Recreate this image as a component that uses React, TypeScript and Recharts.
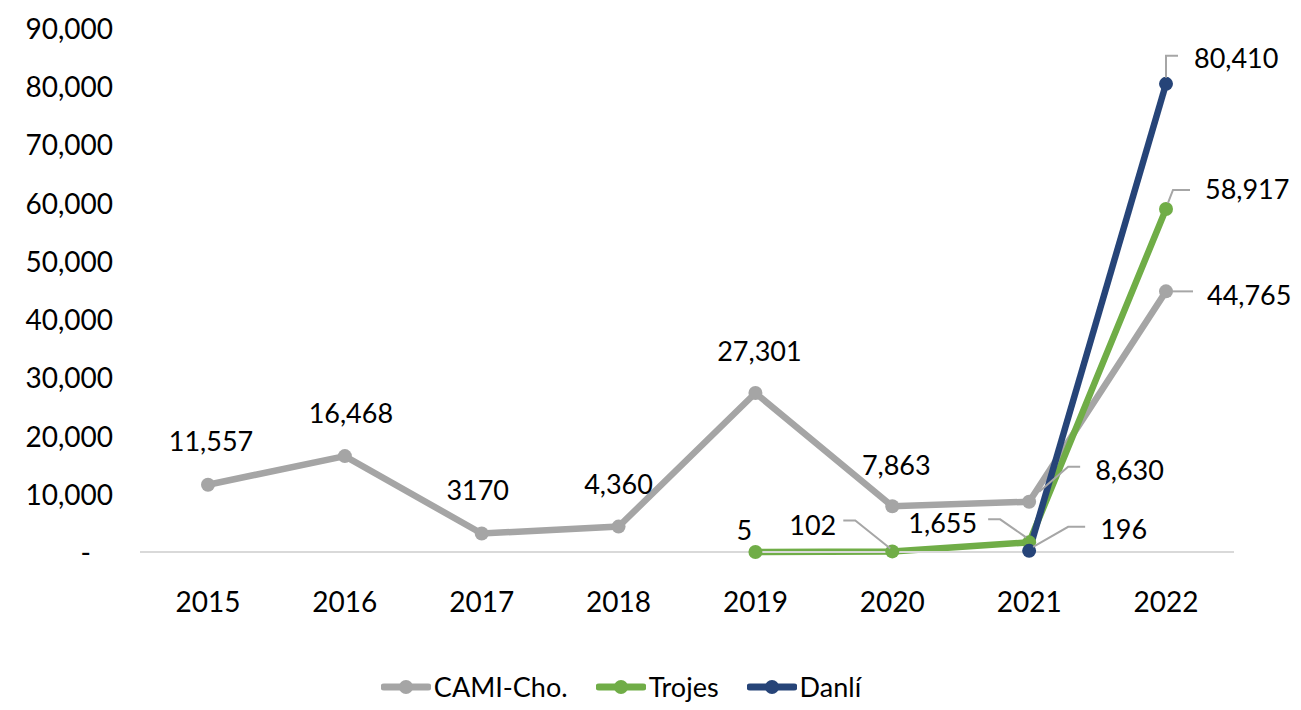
import React from 'react';
import { LineChart, Line, XAxis, YAxis, LabelList, Legend } from 'recharts';

const years = ['2015', '2016', '2017', '2018', '2019', '2020', '2021', '2022'];
const camiValues = [11557, 16468, 3170, 4360, 27301, 7863, 8630, 44765];
const trojesValues = [null, null, null, null, 5, 102, 1655, 58917];
const danliValues = [null, null, null, null, null, null, 196, 80410];
const camiLabels = ['11,557', '16,468', '3170', '4,360', '27,301', '7,863', '8,630', '44,765'];
const trojesLabels = ['', '', '', '', '5', '102', '1,655', '58,917'];
const danliLabels = ['', '', '', '', '', '', '196', '80,410'];
const yTicks = [0, 10000, 20000, 30000, 40000, 50000, 60000, 70000, 80000, 90000];
const seriesNames = ['CAMI-Cho.', 'Trojes', 'Danlí'];

const data = years.map((y, i) => ({
  year: y,
  cami: camiValues[i],
  trojes: trojesValues[i],
  danli: danliValues[i],
}));

const FONT = 'Lato, "Open Sans", sans-serif';
const TEXT = '#000000';
const COLORS = { cami: '#A5A5A5', trojes: '#70AD47', danli: '#264478' };
const LEADER = '#A6A6A6';

type LabelCfg = { dx: number; dy: number; anchor: 'start' | 'middle' | 'end'; leader?: number[][] };

const camiCfg: Record<number, LabelCfg> = {
  0: { dx: 3, dy: -44, anchor: 'middle' },
  1: { dx: 6, dy: -44, anchor: 'middle' },
  2: { dx: -4, dy: -44, anchor: 'middle' },
  3: { dx: 0, dy: -43, anchor: 'middle' },
  4: { dx: 4, dy: -43, anchor: 'middle' },
  5: { dx: 4, dy: -42, anchor: 'middle' },
  6: { dx: 66, dy: -32, anchor: 'start', leader: [[10, -10], [39, -35], [51, -35]] },
  7: { dx: 41, dy: 3, anchor: 'start', leader: [[6, 0], [27, 0]] },
};
const trojesCfg: Record<number, LabelCfg> = {
  4: { dx: -11, dy: -22, anchor: 'middle' },
  5: { dx: -56, dy: -27, anchor: 'end', leader: [[-49, -31], [-37, -31], [-2, -3]] },
  6: { dx: -52, dy: -20, anchor: 'end', leader: [[-41, -23], [-29, -23], [-3, -5]] },
  7: { dx: 39, dy: -20, anchor: 'start', leader: [[2, -6], [7, -19], [24, -19]] },
};
const danliCfg: Record<number, LabelCfg> = {
  6: { dx: 71, dy: -22, anchor: 'start', leader: [[4, -4], [39, -24], [56, -24]] },
  7: { dx: 28, dy: -26, anchor: 'start', leader: [[0, -6], [0, -28], [12, -28]] },
};

const makeLabel = (cfg: Record<number, LabelCfg>, labels: string[]) => (props: any) => {
  const { x, y, index } = props;
  const c = cfg[index];
  if (c === undefined || x == null || y == null) return null;
  return (
    <g>
      {c.leader && (
        <polyline
          points={c.leader.map((p) => `${x + p[0]},${y + p[1]}`).join(' ')}
          fill="none"
          stroke={LEADER}
          strokeWidth={2}
        />
      )}
      <text
        x={x + c.dx}
        y={y + c.dy}
        textAnchor={c.anchor}
        dominantBaseline="central"
        fontFamily={FONT}
        fontSize={27}
        fill={TEXT}
      >
        {labels[index]}
      </text>
    </g>
  );
};

const YTick = (props: any) => {
  const { x, y, payload } = props;
  const v = payload.value;
  const txt = v === 0 ? '-' : v.toLocaleString('en-US');
  return (
    <text
      x={v === 0 ? x - 22 : x}
      y={y}
      textAnchor="end"
      dominantBaseline="central"
      fontFamily={FONT}
      fontSize={28}
      fill={TEXT}
    >
      {txt}
    </text>
  );
};

const XTick = (props: any) => {
  const { x, y, payload } = props;
  return (
    <text x={x} y={y} textAnchor="middle" dominantBaseline="central" fontFamily={FONT} fontSize={28} fill={TEXT}>
      {payload.value}
    </text>
  );
};

const legendColors = [COLORS.cami, COLORS.trojes, COLORS.danli];

const LegendContent = () => (
  <div style={{ display: 'flex', justifyContent: 'center', alignItems: 'center', height: 30 }}>
    {seriesNames.map((n, i) => (
      <div key={n} style={{ display: 'flex', alignItems: 'center', marginLeft: i === 0 ? 0 : 28 }}>
        <svg width={50} height={20}>
          <line x1={3} y1={10} x2={47} y2={10} stroke={legendColors[i]} strokeWidth={7} strokeLinecap="round" />
          <circle cx={25} cy={10} r={7} fill={legendColors[i]} />
        </svg>
        <span style={{ fontFamily: FONT, fontSize: 27, color: TEXT, marginLeft: 3, lineHeight: '30px' }}>{n}</span>
      </div>
    ))}
  </div>
);

export default function App() {
  return (
    <div style={{ width: 1293, height: 694, background: '#fff' }}>
      <LineChart width={1293} height={694} data={data} margin={{ top: 20, right: 67, left: 0, bottom: 0 }}>
        <XAxis
          dataKey="year"
          padding={{ left: 68, right: 68 }}
          axisLine={{ stroke: '#D9D9D9', strokeWidth: 2 }}
          tickLine={false}
          tick={<XTick />}
          tickMargin={43}
          height={120}
          interval={0}
        />
        <YAxis
          domain={[0, 90000]}
          ticks={yTicks}
          axisLine={false}
          tickLine={false}
          tick={<YTick />}
          width={132}
          tickMargin={21}
          interval={0}
        />
        <Legend verticalAlign="bottom" height={30} content={<LegendContent />} wrapperStyle={{ left: 0, width: 1226 }} />
        <Line
          dataKey="cami"
          name={seriesNames[0]}
          stroke={COLORS.cami}
          strokeWidth={6.5}
          dot={{ r: 7, fill: COLORS.cami, stroke: COLORS.cami, strokeWidth: 0 }}
          isAnimationActive={false}
        >
          <LabelList dataKey="cami" content={makeLabel(camiCfg, camiLabels)} />
        </Line>
        <Line
          dataKey="trojes"
          name={seriesNames[1]}
          stroke={COLORS.trojes}
          strokeWidth={6.5}
          dot={{ r: 7, fill: COLORS.trojes, stroke: COLORS.trojes, strokeWidth: 0 }}
          isAnimationActive={false}
        >
          <LabelList dataKey="trojes" content={makeLabel(trojesCfg, trojesLabels)} />
        </Line>
        <Line
          dataKey="danli"
          name={seriesNames[2]}
          stroke={COLORS.danli}
          strokeWidth={6.5}
          dot={{ r: 7, fill: COLORS.danli, stroke: COLORS.danli, strokeWidth: 0 }}
          isAnimationActive={false}
        >
          <LabelList dataKey="danli" content={makeLabel(danliCfg, danliLabels)} />
        </Line>
      </LineChart>
    </div>
  );
}
